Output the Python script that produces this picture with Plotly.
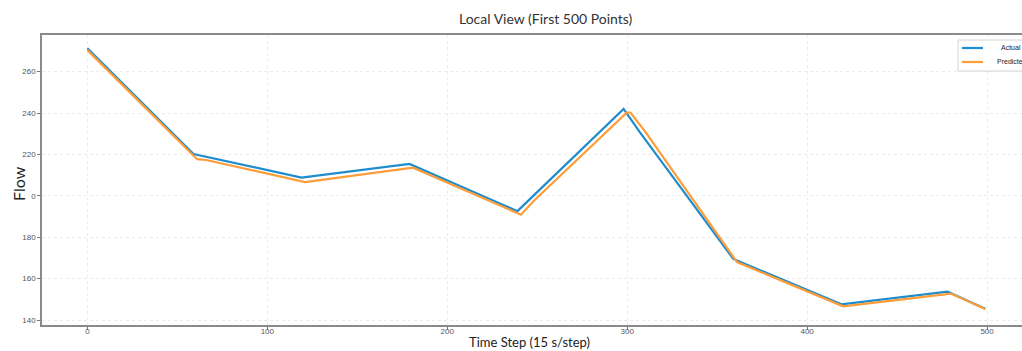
import plotly.graph_objects as go

# Flow series over the first 500 time steps (vertices of the piecewise trend)
actual_steps = [0, 59, 119, 179, 239, 298, 307, 359, 419, 478, 499]
actual_flow = [271.3, 220.2, 208.8, 215.4, 192.6, 242.0, 230.8, 169.5, 147.6, 153.7, 145.5]

pred_steps = [0, 61, 66, 121, 181, 241, 248, 300, 302, 310, 361, 420, 480, 499]
pred_flow = [270.4, 217.7, 217.3, 206.6, 213.6, 190.9, 197.5, 240.4, 240.0, 231.0, 168.0, 146.6, 152.8, 145.3]

x_ticks = [0, 100, 200, 300, 400, 500]
x_tick_text = ["0", "100", "200", "300", "400", "500"]
y_ticks = [140, 160, 180, 200, 220, 240, 260]
y_tick_text = ["140", "160", "180", "0", "220", "240", "260"]

series_names = ["Actual", "Predicted"]
series_colors = ["#1f8ccc", "#ff9c3a"]

W, H = 1022, 351
ML, MR, MT, MB = 42, 0, 35, 26
PW, PH = W - ML - MR, H - MT - MB


def px(x):
    """Page pixel column -> paper x."""
    return (x - ML) / PW


def py(y):
    """Page pixel row -> paper y."""
    return (H - MB - y) / PH


fig = go.Figure()
fig.add_trace(go.Scatter(x=actual_steps, y=actual_flow, mode="lines", name=series_names[0],
                         line=dict(color=series_colors[0], width=2.2)))
fig.add_trace(go.Scatter(x=pred_steps, y=pred_flow, mode="lines", name=series_names[1],
                         line=dict(color=series_colors[1], width=2.2)))

tick_font = dict(family="Liberation Sans Narrow, Liberation Sans, sans-serif", size=8, color="#555")

# Legend box drawn by hand in the upper-right corner
shapes = [
    dict(type="rect", xref="paper", yref="paper", x0=px(958), x1=px(1040), y0=py(71), y1=py(40),
         line=dict(color="#d4d4d4", width=1), fillcolor="white", layer="above"),
]
annotations = []
legend_text_x = [999, 995]
for i, (name, color) in enumerate(zip(series_names, series_colors)):
    row = 48 + i * 14
    shapes.append(dict(type="line", xref="paper", yref="paper", x0=px(962), x1=px(983),
                       y0=py(row), y1=py(row), line=dict(color=color, width=2.2), layer="above"))
    annotations.append(dict(text=name, xref="paper", yref="paper", x=px(legend_text_x[i]), y=py(row),
                            xanchor="left", yanchor="middle", showarrow=False,
                            font=dict(family="Liberation Sans Narrow, Liberation Sans, sans-serif",
                                      size=7, color="#222")))

annotations += [
    dict(text="Local View (First 500 Points)", xref="paper", yref="paper",
         x=px(546), y=py(18), xanchor="center", yanchor="middle", showarrow=False,
         font=dict(family="Lato, sans-serif", size=14, color="#333")),
    dict(text="Time Step (15 s/step)", xref="paper", yref="paper",
         x=px(529), y=py(342), xanchor="center", yanchor="middle", showarrow=False,
         font=dict(family="Lato, sans-serif", size=13, color="#222")),
    dict(text="Flow", xref="paper", yref="paper", textangle=-90,
         x=px(18), y=py(184), xanchor="center", yanchor="middle", showarrow=False,
         font=dict(family="Lato, sans-serif", size=16, color="#222")),
]

fig.update_layout(
    width=W, height=H,
    margin=dict(l=ML, r=MR, t=MT, b=MB, pad=0),
    plot_bgcolor="white", paper_bgcolor="white",
    showlegend=False,
    xaxis=dict(range=[-25.2, 519.4], tickvals=x_ticks, ticktext=x_tick_text,
               tickfont=tick_font, ticks="outside", ticklen=3, tickcolor="#777",
               ticklabelstandoff=-5,
               showline=True, linecolor="#8a8a8a", linewidth=1.5, mirror=True,
               showgrid=True, gridcolor="#ececec", griddash="dot", gridwidth=1,
               zeroline=False),
    yaxis=dict(range=[137.6, 277.7], tickvals=y_ticks, ticktext=y_tick_text,
               tickfont=tick_font, ticks="outside", ticklen=3, tickcolor="#777",
               showline=True, linecolor="#8a8a8a", linewidth=1.5,
               showgrid=True, gridcolor="#ececec", griddash="dot", gridwidth=1,
               zeroline=False),
    shapes=shapes,
    annotations=annotations,
)

fig.write_html("out.html")
